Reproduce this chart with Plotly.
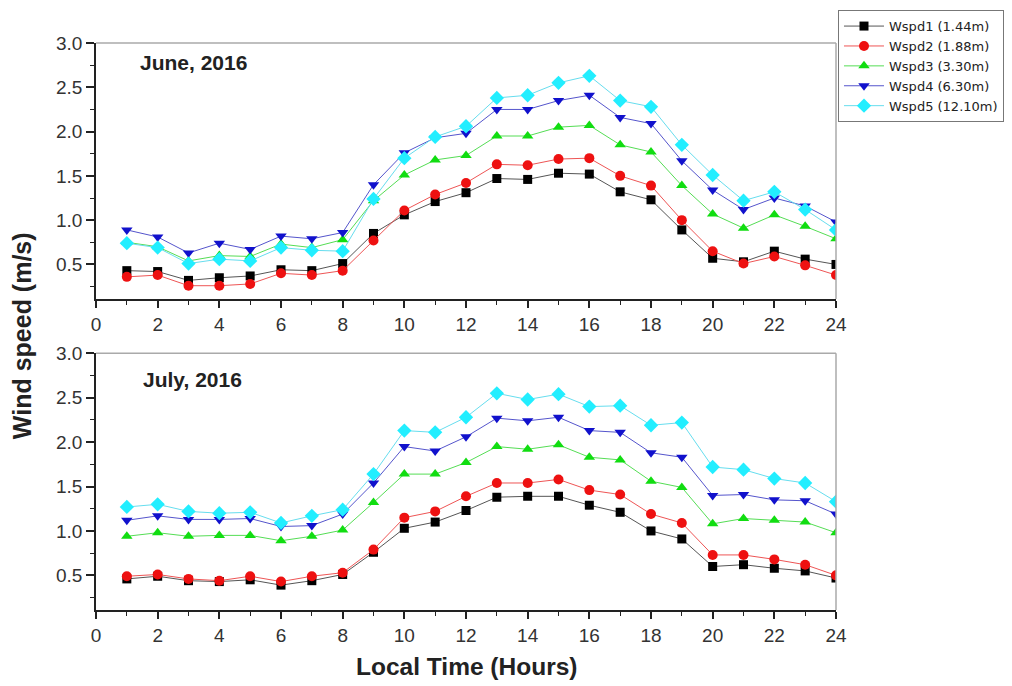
import plotly.graph_objects as go

hours = list(range(1, 25))

series_names = ["Wspd1 (1.44m)", "Wspd2 (1.88m)", "Wspd3 (3.30m)", "Wspd4 (6.30m)", "Wspd5 (12.10m)"]

june_wspd1 = [0.43, 0.42, 0.32, 0.35, 0.37, 0.44, 0.43, 0.51, 0.85, 1.06, 1.21, 1.31, 1.47, 1.46, 1.53, 1.52,
              1.32, 1.23, 0.89, 0.57, 0.53, 0.65, 0.56, 0.50]
june_wspd2 = [0.36, 0.38, 0.26, 0.26, 0.28, 0.40, 0.38, 0.43, 0.77, 1.11, 1.29, 1.42, 1.63, 1.62, 1.69, 1.70,
              1.50, 1.39, 1.00, 0.65, 0.51, 0.59, 0.49, 0.38]
june_wspd3 = [0.75, 0.70, 0.54, 0.60, 0.59, 0.73, 0.69, 0.78, 1.22, 1.51, 1.68, 1.73, 1.95, 1.95, 2.05, 2.07,
              1.85, 1.77, 1.39, 1.07, 0.91, 1.06, 0.93, 0.79]
june_wspd4 = [0.89, 0.81, 0.63, 0.74, 0.67, 0.82, 0.79, 0.86, 1.40, 1.76, 1.93, 1.98, 2.25, 2.25, 2.35, 2.41,
              2.16, 2.09, 1.67, 1.34, 1.12, 1.25, 1.16, 0.98]
june_wspd5 = [0.74, 0.69, 0.51, 0.56, 0.54, 0.69, 0.66, 0.65, 1.24, 1.70, 1.94, 2.06, 2.38, 2.41, 2.55, 2.63,
              2.35, 2.28, 1.85, 1.51, 1.22, 1.32, 1.12, 0.89]

july_wspd1 = [0.46, 0.49, 0.44, 0.43, 0.45, 0.39, 0.44, 0.51, 0.76, 1.03, 1.10, 1.23, 1.38, 1.39, 1.39, 1.29,
              1.21, 1.00, 0.91, 0.60, 0.62, 0.58, 0.55, 0.47]
july_wspd2 = [0.49, 0.51, 0.46, 0.44, 0.49, 0.43, 0.49, 0.53, 0.79, 1.15, 1.22, 1.39, 1.54, 1.54, 1.58, 1.46,
              1.41, 1.19, 1.09, 0.73, 0.73, 0.68, 0.62, 0.50]
july_wspd3 = [0.94, 0.98, 0.94, 0.95, 0.95, 0.89, 0.94, 1.01, 1.32, 1.64, 1.64, 1.77, 1.95, 1.92, 1.97, 1.83,
              1.80, 1.56, 1.49, 1.08, 1.14, 1.12, 1.10, 0.98]
july_wspd4 = [1.12, 1.17, 1.13, 1.13, 1.14, 1.05, 1.06, 1.19, 1.54, 1.95, 1.90, 2.06, 2.27, 2.24, 2.28, 2.13,
              2.11, 1.88, 1.83, 1.40, 1.41, 1.35, 1.34, 1.19]
july_wspd5 = [1.27, 1.30, 1.22, 1.20, 1.21, 1.09, 1.17, 1.24, 1.64, 2.13, 2.11, 2.28, 2.55, 2.48, 2.54, 2.40,
              2.41, 2.19, 2.22, 1.72, 1.69, 1.59, 1.54, 1.33]

june = [june_wspd1, june_wspd2, june_wspd3, june_wspd4, june_wspd5]
july = [july_wspd1, july_wspd2, july_wspd3, july_wspd4, july_wspd5]

marker_colors = ["#000000", "#ee1111", "#11dd11", "#1111cc", "#22eeff"]
line_colors = ["#555555", "#ee5555", "#55dd55", "#5555cc", "#66ddee"]
symbols = ["square", "circle", "triangle-up", "triangle-down", "diamond"]
sizes = [9, 10, 10, 10, 11]

x_ticks = list(range(0, 25, 2))
y_ticks = [0.5, 1.0, 1.5, 2.0, 2.5, 3.0]
y_tick_text = ["0.5", "1.0", "1.5", "2.0", "2.5", "3.0"]

fig = go.Figure()

for panel, data in [(1, june), (2, july)]:
    for i in range(5):
        fig.add_trace(go.Scatter(
            x=hours, y=data[i], mode="lines+markers", name=series_names[i],
            line=dict(color=line_colors[i], width=1),
            marker=dict(symbol=symbols[i], color=marker_colors[i], size=sizes[i],
                        line=dict(width=0)),
            showlegend=(panel == 1),
            xaxis="x" if panel == 1 else "x2",
            yaxis="y" if panel == 1 else "y2",
        ))

FONT = "Liberation Sans, Arial, sans-serif"
axis_font = dict(family=FONT, size=19, color="#333333")

xcommon = dict(range=[0, 24], tickmode="array", tickvals=x_ticks, ticks="outside", ticklen=7,
               tickwidth=1.5, tickcolor="#222", showline=True, linecolor="#222", linewidth=1.5,
               showgrid=False, zeroline=False, tickfont=axis_font,
               minor=dict(dtick=1, ticks="outside", ticklen=4, tickcolor="#222", tickwidth=1.2))
ycommon = dict(range=[0.11, 3.0], tickmode="array", tickvals=y_ticks, ticktext=y_tick_text,
               ticks="outside", ticklen=8, tickwidth=1.5, tickcolor="#222", showline=True,
               linecolor="#222", linewidth=1.5, showgrid=False, zeroline=False, tickfont=axis_font,
               minor=dict(tickvals=[0.25, 0.75, 1.25, 1.75, 2.25, 2.75], ticks="outside",
                          ticklen=4, tickcolor="#222", tickwidth=1.2))

fig.update_layout(
    width=1004, height=678,
    margin=dict(l=88, r=176, t=35, b=76, autoexpand=False),
    paper_bgcolor="white", plot_bgcolor="white",
    font=dict(family=FONT, color="#222"),
    xaxis=dict(domain=[0, 1], anchor="y", **xcommon),
    yaxis=dict(domain=[0.5485, 1.0], anchor="x", **ycommon),
    xaxis2=dict(domain=[0, 1], anchor="y2", **xcommon),
    yaxis2=dict(domain=[0.0, 0.4527], anchor="x2", **ycommon),
    legend=dict(x=1.0027, y=1.058, xanchor="left", yanchor="top",
                bordercolor="#777", borderwidth=1, bgcolor="white",
                font=dict(size=13, color="#222", family="DejaVu Sans, sans-serif"),
                tracegroupgap=0, itemwidth=40),
)

# light top/right frame lines
for xr, yr in [("x domain", "y domain"), ("x2 domain", "y2 domain")]:
    fig.add_shape(type="line", xref=xr, yref=yr, x0=0, x1=1, y0=1, y1=1,
                  line=dict(color="#aaaaaa", width=1.5))
    fig.add_shape(type="line", xref=xr, yref=yr, x0=1, x1=1, y0=0, y1=1,
                  line=dict(color="#aaaaaa", width=1.5))

fig.add_annotation(x=1.36, y=2.78, xref="x", yref="y", text="<b>June, 2016</b>", showarrow=False,
                   xanchor="left", yanchor="middle", font=dict(size=21, color="#222"))
fig.add_annotation(x=1.46, y=2.70, xref="x2", yref="y2", text="<b>July, 2016</b>", showarrow=False,
                   xanchor="left", yanchor="middle", font=dict(size=21, color="#222"))
fig.add_annotation(x=-0.1, y=0.483, xref="paper", yref="paper", text="<b>Wind speed (m/s)</b>",
                   textangle=-90, showarrow=False, xanchor="center", yanchor="middle",
                   font=dict(size=25, color="#222"))
fig.add_annotation(x=0.5, y=-0.1, xref="paper", yref="paper", text="<b>Local Time (Hours)</b>",
                   showarrow=False, xanchor="center", yanchor="middle",
                   font=dict(size=24.5, color="#222"))

fig.write_html("out.html")
